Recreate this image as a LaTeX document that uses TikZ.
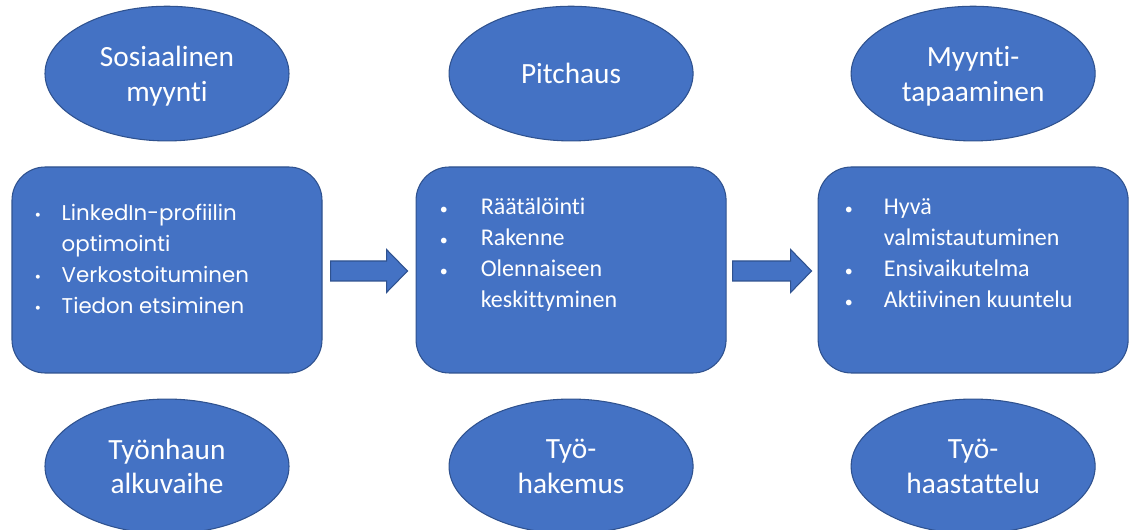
\documentclass[tikz,border=0pt]{standalone}
\usepackage{fontspec}
\setmainfont{Carlito}[Ligatures=NoCommon]
\newfontfamily\geofont{Poppins}[Ligatures=NoCommon]
\usetikzlibrary{positioning,
        shapes.geometric,
        calc}
\usepackage{xcolor}
\definecolor{fillblue}{HTML}{4472C4}
\definecolor{edgeblue}{HTML}{2F528F}
% block arrow from a start point to a tip
\newcommand{\blockarrow}[2]{%
  \draw[blockarr] ($(#1)+(0,-10)$) -- ($(#2)+(-21,-10)$) -- ($(#2)+(-21,-21.5)$)
    -- (#2) -- ($(#2)+(-21,21.5)$) -- ($(#2)+(-21,10)$) -- ($(#1)+(0,10)$) -- cycle;}
\newcommand{\dotmark}{{\fontsize{12}{12}\selectfont\textbullet}}

\begin{document}
\begin{tikzpicture}[x=0.75pt,y=-0.75pt,
        phase/.style={ellipse,draw=edgeblue,fill=fillblue,line width=0.8pt,
          minimum width=183pt,minimum height=101pt,inner sep=0pt,
          text=white,align=center,font=\fontsize{22}{26}\selectfont},
        stagebox/.style={rectangle,rounded corners=25pt,draw=edgeblue,fill=fillblue,
          line width=0.8pt,minimum width=232.5pt,minimum height=154.5pt},
        listtext/.style={inner sep=0pt,text=white,anchor=north west,
          font=\fontsize{18}{23.25}\selectfont},
        blockarr/.style={draw=edgeblue,fill=fillblue,line width=0.8pt}]
        \useasboundingbox (0,0) rectangle (1131,530);

        \node [stagebox] (b1) at (167,270) {};
        \node [stagebox,right=69.75pt of b1] (b2) {};
        \node [stagebox,right=68.25pt of b2] (b3) {};

        \node [phase,above=18.75pt of b1,text depth=-2pt] (t1) {Sosiaalinen\\myynti};
        \node [phase,above=18.75pt of b2] (t2) {Pitchaus};
        \node [phase,above=18.75pt of b3,text depth=-2pt] (t3) {Myynti-\\tapaaminen};

        \node [phase,below=18.75pt of b1] (u1) {Työnhaun\\alkuvaihe};
        \node [phase,below=18.75pt of b2] (u2) {Työ-\\hakemus};
        \node [phase,below=18.75pt of b3] (u3) {Työ-\\haastattelu};

        \node [listtext,below right=24pt and 17.25pt of b1.north west] (l1)
          {\geofont\fontsize{16}{23.25}\selectfont
           \begin{tabular}{@{}p{20.25pt}@{}l@{}}
           \dotmark & LinkedIn-profiilin\\
                    & optimointi\\
           \dotmark & Verkostoituminen\\
           \dotmark & Tiedon etsiminen
           \end{tabular}};
        \node [listtext,below right=19.5pt and 18pt of b2.north west] (l2)
          {\begin{tabular}{@{}p{30.75pt}@{}l@{}}
           \dotmark & Räätälöinti\\
           \dotmark & Rakenne\\
           \dotmark & Olennaiseen\\
                    & keskittyminen
           \end{tabular}};
        \node [listtext,below right=19.5pt and 20.25pt of b3.north west] (l3)
          {\begin{tabular}{@{}p{29.25pt}@{}l@{}}
           \dotmark & Hyvä\\
                    & valmistautuminen\\
           \dotmark & Ensivaikutelma\\
           \dotmark & Aktiivinen  kuuntelu
           \end{tabular}};

        \coordinate (a1s) at ($(b1.east)+(8,1)$);
        \coordinate (a1e) at ($(b2.west)+(-8,1)$);
        \coordinate (a2s) at ($(b2.east)+(6,1)$);
        \coordinate (a2e) at ($(b3.west)+(-6,1)$);
        \blockarrow{a1s}{a1e}
        \blockarrow{a2s}{a2e}
\end{tikzpicture}
\end{document}
